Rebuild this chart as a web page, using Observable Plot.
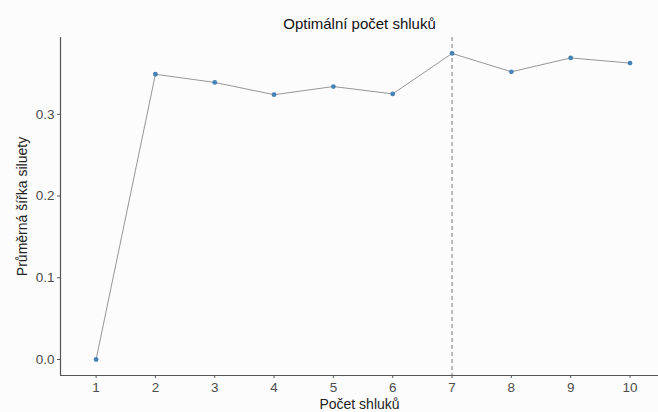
<!DOCTYPE html>
<html><head><meta charset="utf-8">
<script src="https://cdn.jsdelivr.net/npm/d3@7"></script>
<script src="https://cdn.jsdelivr.net/npm/@observablehq/plot@0.6"></script>
<style>
html,body{margin:0;padding:0;background:#fcfcfc;}
</style>
</head><body>
<div id="chart"></div>
<script>
const clusters = [1,2,3,4,5,6,7,8,9,10];
const silhouette = [0.0,0.349,0.339,0.324,0.334,0.325,0.3745,0.352,0.369,0.3627];
const optimalK = [7];
const yTicks = [0,0.1,0.2,0.3];
const title = "Optimální počet shluků";
const xLabel = "Počet shluků";
const yLabel = "Průměrná šířka siluety";

const data = clusters.map((k,i)=>({k, s: silhouette[i]}));
const xDom = [0.4, 10.48];
const yDom = [-0.0196, 0.394];

const chart = Plot.plot({
  width: 658, height: 412,
  marginLeft: 60, marginRight: 0, marginTop: 37, marginBottom: 37,
  style: {background:"#fcfcfc", fontFamily:"Liberation Sans, Arial, sans-serif", fontSize:"13px", color:"#4d4d4d"},
  x: {domain: xDom, ticks: clusters, tickFormat: d=>String(d), tickSize: 3, tickPadding: 4, label: null},
  y: {domain: yDom, ticks: yTicks, tickFormat: d3.format(".1f"), tickSize: 3, tickPadding: 3, label: null},
  marks: [
    Plot.ruleX(optimalK, {stroke:"#555", strokeDasharray:"4,3", strokeWidth:0.8}),
    Plot.line(data, {x:"k", y:"s", stroke:"#8a8a8a", strokeWidth:0.9}),
    Plot.dot(data, {x:"k", y:"s", r:2.4, fill:"#4682B4", stroke:null}),
    Plot.ruleX([xDom[0]], {stroke:"#555", strokeWidth:1.2}),
    Plot.ruleY([yDom[0]], {stroke:"#555", strokeWidth:1.2}),
    Plot.axisX({ticks: clusters, tickSize:3, tickPadding:4, fontSize:13.5, stroke:"#555", label:null}),
    Plot.axisY({ticks: yTicks, tickFormat: d3.format(".1f"), tickSize:3, tickPadding:3, fontSize:13.5, stroke:"#555", label:null}),
    Plot.text([title], {frameAnchor:"top", dy:-19, fontSize:15, fill:"#111", text:d=>d}),
    Plot.text([xLabel], {frameAnchor:"bottom", dy:33, fontSize:14, fill:"#222", text:d=>d}),
    Plot.text([yLabel], {frameAnchor:"left", dx:-38, rotate:-90, textAnchor:"middle", fontSize:14, fill:"#222", text:d=>d})
  ]
});
document.getElementById("chart").appendChild(chart);
</script>
</body></html>
